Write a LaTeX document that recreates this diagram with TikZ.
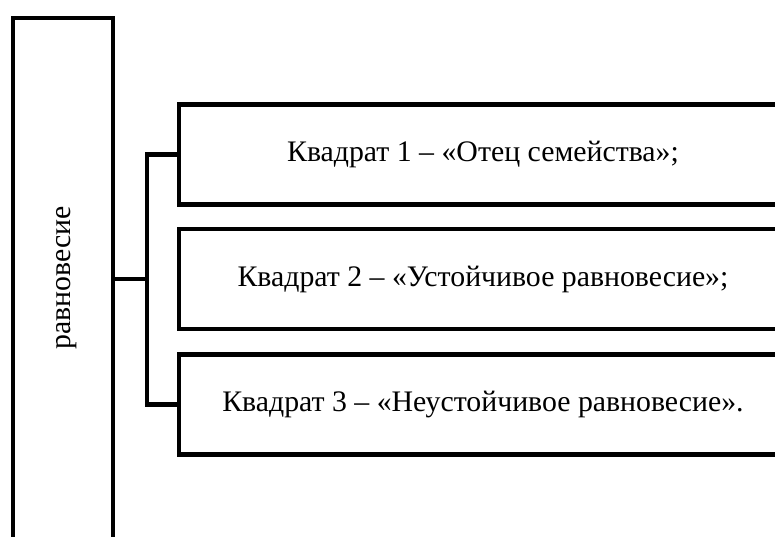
\documentclass[tikz,border=0pt]{standalone}
\usepackage{fontspec}
\setmainfont{Liberation Serif}
\usetikzlibrary{positioning}
\tikzset{
    frame/.style={draw, line width=4.5pt, inner sep=0pt, font=\fontsize{29.8}{36}\selectfont},
    link/.style={line width=4.5pt, line cap=rect}
}
\begin{document}
\begin{tikzpicture}[x=1pt,y=-1pt]
        \useasboundingbox (0,0) rectangle (775,536);
        \node[frame, minimum width=100pt, minimum height=530pt] (eq) at (63,283) {};
        \node[rotate=90, font=\fontsize{29.8}{36}\selectfont] (eqtext) at (67,278) {равновесие};

        \node[frame, minimum width=608pt, minimum height=100pt] (sq1) at (483,154.5) {Квадрат 1 – «Отец семейства»;};
        \node[frame, minimum width=608pt, minimum height=100pt] (sq2) at (483,279) {Квадрат 2 – «Устойчивое равновесие»;};
        \node[frame, minimum width=608pt, minimum height=100pt] (sq3) at (483,404.5) {Квадрат 3 – «Неустойчивое равновесие».};

        \coordinate (fork) at (147,279);
        \draw[link] (eq.east |- fork) -- (fork);
        \draw[link] (fork |- sq1.west) -- (sq1.west);
        \draw[link] (fork |- sq3.west) -- (sq3.west);
        \draw[link] (fork |- sq1.west) -- (fork |- sq3.west);
    \end{tikzpicture}
\end{document}
